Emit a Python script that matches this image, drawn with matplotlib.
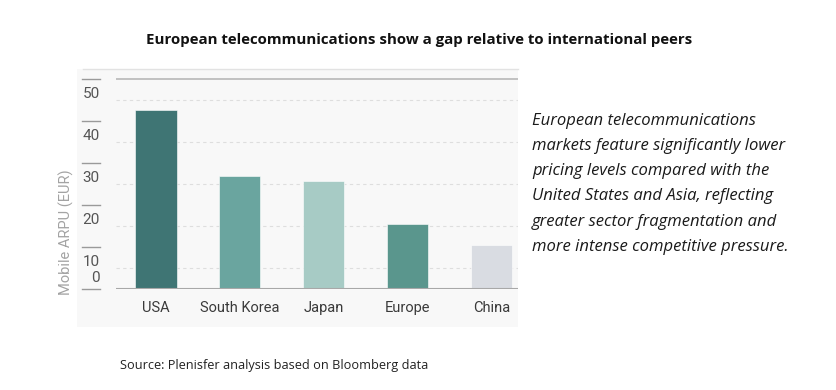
import numpy as np
import matplotlib.pyplot as plt
from matplotlib.patches import Rectangle
from matplotlib.lines import Line2D

countries = ['USA', 'South Korea', 'Japan', 'Europe', 'China']
arpu = [42.7, 26.9, 25.8, 15.4, 10.4]
bar_colors = ['#3f7574', '#6aa59f', '#a7cbc5', '#5a968d', '#d9dce2']
y_ticks = [0, 10, 20, 30, 40, 50]
grid_levels = [5, 15, 25, 35, 45]

title = 'European telecommunications show a gap relative to international peers'
note_lines = [
    'European telecommunications',
    'markets feature significantly lower',
    'pricing levels compared with the',
    'United States and Asia, reflecting',
    'greater sector fragmentation and',
    'more intense competitive pressure.',
]
source = 'Source: Plenisfer analysis based on Bloomberg data'

W, H = 837, 390
fig = plt.figure(figsize=(W / 100, H / 100), dpi=100)
fig.patch.set_facecolor('white')

def fx(px):
    return px / W

def fy(py):
    return 1 - py / H

chart_font = ['Liberation Sans Narrow', 'Roboto', 'DejaVu Sans']
text_font = ['Open Sans', 'DejaVu Sans']

# light background of the embedded chart picture
fig.patches.append(Rectangle((fx(77), fy(327)), fx(518) - fx(77), fy(69) - fy(327),
                             transform=fig.transFigure, facecolor='#f8f8f8',
                             edgecolor='none', zorder=-5))
fig.lines.append(Line2D([fx(83), fx(518)], [fy(69), fy(69)], transform=fig.transFigure,
                        color='#e2e2e2', lw=1.0, zorder=-4))

ax = fig.add_axes([fx(116), fy(288.7), fx(518) - fx(116), fy(69) - fy(288.7)])
ax.set_facecolor('none')
ax.set_zorder(2)
x = np.arange(len(countries))
ax.bar(x, arpu, width=0.49, color=bar_colors, edgecolor='#ffffff', linewidth=0.4, zorder=3)
ax.set_xlim(-0.477, 4.316)
ax.set_ylim(0, 52.46)

for g in grid_levels:
    ax.axhline(g, color='#dedede', lw=0.8, ls=(0, (3, 3)), zorder=1)
ax.axhline(50, color='#bdbdbd', lw=1.3, zorder=2)
ax.axhline(0, color='#a8a8a8', lw=1.5, zorder=4)

for s in ax.spines.values():
    s.set_visible(False)
ax.set_yticks([])
ax.set_xticks(x)
ax.set_xticklabels(countries, family=chart_font, fontsize=10.5, color='#3a3a3a')
ax.tick_params(axis='x', length=0, pad=9)

# short tick marks and offset labels on the left
ytr = ax.get_yaxis_transform()
for v in y_ticks:
    ax.plot([-0.085, -0.040], [v, v], transform=ytr, color='#9a9a9a', lw=1.0, clip_on=False)
    dy = 11 if v == 0 else -15
    ax.annotate(str(v), xy=(-0.040, v), xycoords=ytr, xytext=(0, dy),
                textcoords='offset pixels', ha='right', va='center',
                family=chart_font, fontsize=11, color='#555555')

fig.text(fx(66), fy(232), 'Mobile ARPU (EUR)', rotation=90, ha='center', va='center',
         family=chart_font, fontsize=10.5, color='#a3a3a3')

fig.text(fx(419), fy(40), title, ha='center', va='center', family=text_font,
         fontsize=10.85, fontweight='bold', color='#111111')

for i, line in enumerate(note_lines):
    fig.text(fx(532), fy(120.7 + i * 25.2), line, ha='left', va='center',
             family=text_font, style='italic', fontsize=12, color='#1a1a1a')

fig.text(fx(120), fy(366), source, ha='left', va='center', family=text_font,
         fontsize=9.2, color='#222222')

fig.savefig('out.png', dpi=100)
